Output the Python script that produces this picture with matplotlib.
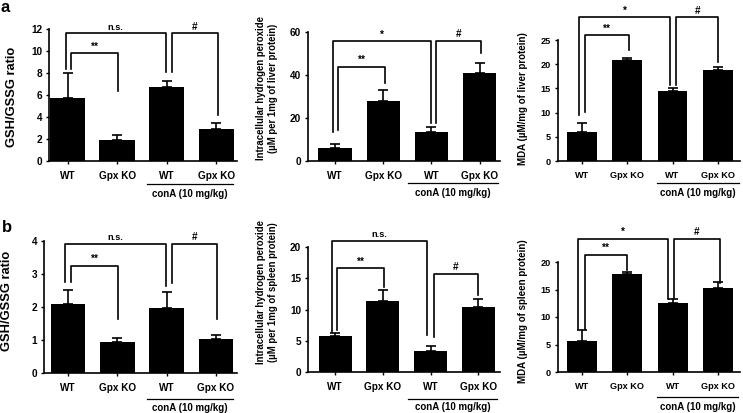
import matplotlib
matplotlib.use('Agg')
import matplotlib.pyplot as plt
from matplotlib.transforms import ScaledTranslation

plt.rcParams['font.family'] = ['Liberation Sans', 'DejaVu Sans']
plt.rcParams['font.weight'] = 'bold'

groups = ['WT', 'Gpx KO', 'WT', 'Gpx KO']

gsh_liver = [5.76, 1.91, 6.70, 2.88]
gsh_liver_err = [2.21, 0.45, 0.60, 0.62]
h2o2_liver = [6.2, 27.9, 13.6, 40.8]
h2o2_liver_err = [1.7, 5.1, 2.1, 4.6]
mda_liver = [6.06, 20.9, 14.5, 18.7]
mda_liver_err = [1.74, 0.3, 0.6, 0.8]

gsh_spleen = [2.08, 0.95, 1.96, 1.02]
gsh_spleen_err = [0.45, 0.12, 0.50, 0.13]
h2o2_spleen = [5.76, 11.36, 3.41, 10.45]
h2o2_spleen_err = [0.43, 1.74, 0.80, 1.28]
mda_spleen = [5.7, 17.9, 12.5, 15.3]
mda_spleen_err = [1.9, 0.3, 0.8, 1.1]

W, H = 743, 413
fig = plt.figure(figsize=(W / 100, H / 100), dpi=100)


def px_axes(x0, x1, ytop, ybot):
    return fig.add_axes([x0 / W, 1 - ybot / H, (x1 - x0) / W, (ybot - ytop) / H])


def panel(ax, vals, errs, xlim, width, ymax, ystep, brackets, cona, line_off, text_off, fs):
    x = range(len(vals))
    ax.bar(x, vals, width=width, color='black', zorder=2)
    ax.errorbar(x, vals, yerr=[[0] * len(errs), errs], fmt='none', ecolor='black',
                elinewidth=1.2, capsize=3.6, capthick=1.2, zorder=3)
    ax.set_xlim(*xlim)
    ax.set_ylim(0, ymax)
    ax.set_yticks([ystep * i for i in range(int(round(ymax / ystep)) + 1)])
    ax.set_xticks(list(x))
    ax.set_xticklabels(groups, fontsize=fs, fontweight='bold')
    for lab in ax.get_yticklabels():
        lab.set_fontsize(fs)
        lab.set_fontweight('bold')
    ax.tick_params(axis='x', length=2, width=1, pad=5)
    ax.tick_params(axis='y', length=2.5, width=1, pad=2.5)
    for s in ['top', 'right']:
        ax.spines[s].set_visible(False)
    for s in ['left', 'bottom']:
        ax.spines[s].set_linewidth(1.2)
    for x1, x2, top, y1, y2, lab in brackets:
        ax.plot([x1, x1, x2, x2], [y1, top, top, y2], color='black', lw=1.2, clip_on=False)
        ax.annotate(lab, xy=((x1 + x2) / 2, top), xytext=(0, 1.2), textcoords='offset points',
                    ha='center', va='bottom', fontsize=6.6 if lab == 'n.s.' else 7.2,
                    fontweight='bold', annotation_clip=False)
    tr = ax.get_xaxis_transform()
    ltr = tr + ScaledTranslation(0, -line_off / 100, fig.dpi_scale_trans)
    ax.plot(cona, [0, 0], color='black', lw=0.9, transform=ltr, clip_on=False)
    ttr = tr + ScaledTranslation(0, -text_off / 100, fig.dpi_scale_trans)
    ax.text(sum(cona) / 2, 0, 'conA (10 mg/kg)', transform=ttr, ha='center', va='center',
            fontsize=7, fontweight='bold')


# row a (liver)
ax1 = px_axes(49, 237, 29, 161)
panel(ax1, gsh_liver, gsh_liver_err, (-0.374, 3.42), 0.71, 12, 2,
      [(-0.04, 1.98, 11.6, 8.35, 8.1, 'n.s.'), (0.08, 1.02, 9.8, 8.35, 6.4, '**'),
       (2.11, 3.04, 11.6, 8.1, 4.2, '#')],
      (1.61, 3.34), 23, 33, 7.2)

ax2 = px_axes(308, 500, 32, 161)
panel(ax2, h2o2_liver, h2o2_liver_err, (-0.56, 3.42), 0.69, 60, 20,
      [(-0.05, 1.98, 55.8, 13.6, 17.5, '*'), (0.06, 1.04, 43.9, 14.4, 36.1, '**'),
       (2.09, 3.02, 55.8, 17.5, 50.1, '#')],
      (1.51, 3.37), 22, 32, 7.2)

ax3 = px_axes(558, 740, 40, 161)
panel(ax3, mda_liver, mda_liver_err, (-0.53, 3.49), 0.66, 25, 5,
      [(-0.06, 1.94, 29.7, 9.5, 15.7, '*'), (0.07, 1.04, 26.0, 10.2, 22.9, '**'),
       (2.08, 3.01, 29.7, 15.7, 20.5, '#')],
      (1.66, 3.47), 22, 32, 6.6)

# row b (spleen)
ax4 = px_axes(44, 237, 241, 373)
panel(ax4, gsh_spleen, gsh_spleen_err, (-0.49, 3.43), 0.7, 4, 1,
      [(-0.06, 1.99, 3.92, 2.75, 2.65, 'n.s.'), (0.06, 1.01, 3.25, 2.75, 1.65, '**'),
       (2.11, 3.02, 3.92, 2.74, 1.65, '#')],
      (1.6, 3.35), 26, 35, 7.2)

ax5 = px_axes(308, 500, 247, 372)
panel(ax5, h2o2_spleen, h2o2_spleen_err, (-0.565, 3.45), 0.69, 20, 5,
      [(-0.07, 1.93, 21.0, 6.45, 5.9, 'n.s.'), (0.05, 1.03, 16.6, 6.7, 13.65, '**'),
       (2.08, 2.98, 15.7, 5.65, 12.3, '#')],
      (1.53, 3.39), 27, 35, 7.2)

ax6 = px_axes(558, 740, 262, 372)
panel(ax6, mda_spleen, mda_spleen_err, (-0.52, 3.48), 0.66, 20, 5,
      [(-0.07, 1.89, 24.2, 7.9, 13.3, '*'), (0.08, 0.99, 21.3, 7.9, 18.5, '**'),
       (2.03, 3.03, 24.2, 13.4, 16.2, '#')],
      (1.66, 3.43), 25, 35, 6.6)

# y labels and panel letters (pixel positions)
def ftext(x, y, s, **kw):
    fig.text(x / W, 1 - y / H, s, fontweight='bold', **kw)

ftext(12, 97, 'GSH/GSSG ratio', rotation=90, ha='center', va='center', fontsize=9.3)
ftext(267, 88, 'Intracellular hydrogen peroxide\n(\u00b5M per 1mg of liver protein)',
      rotation=90, ha='center', va='center', fontsize=6.9, linespacing=1.25)
ftext(523, 99, 'MDA (\u00b5M/mg of liver protein)', rotation=90, ha='center', va='center', fontsize=7)
ftext(7, 301, 'GSH/GSSG ratio', rotation=90, ha='center', va='center', fontsize=9.3)
ftext(267, 292, 'Intracellular hydrogen peroxide\n(\u00b5M per 1mg of spleen protein)',
      rotation=90, ha='center', va='center', fontsize=6.9, linespacing=1.25)
ftext(523, 311, 'MDA (\u00b5M/mg of spleen protein)', rotation=90, ha='center', va='center', fontsize=7)

ftext(5, 8, 'a', ha='center', va='center', fontsize=12)
ftext(7, 228, 'b', ha='center', va='center', fontsize=12)

fig.savefig('out.png', dpi=100)
